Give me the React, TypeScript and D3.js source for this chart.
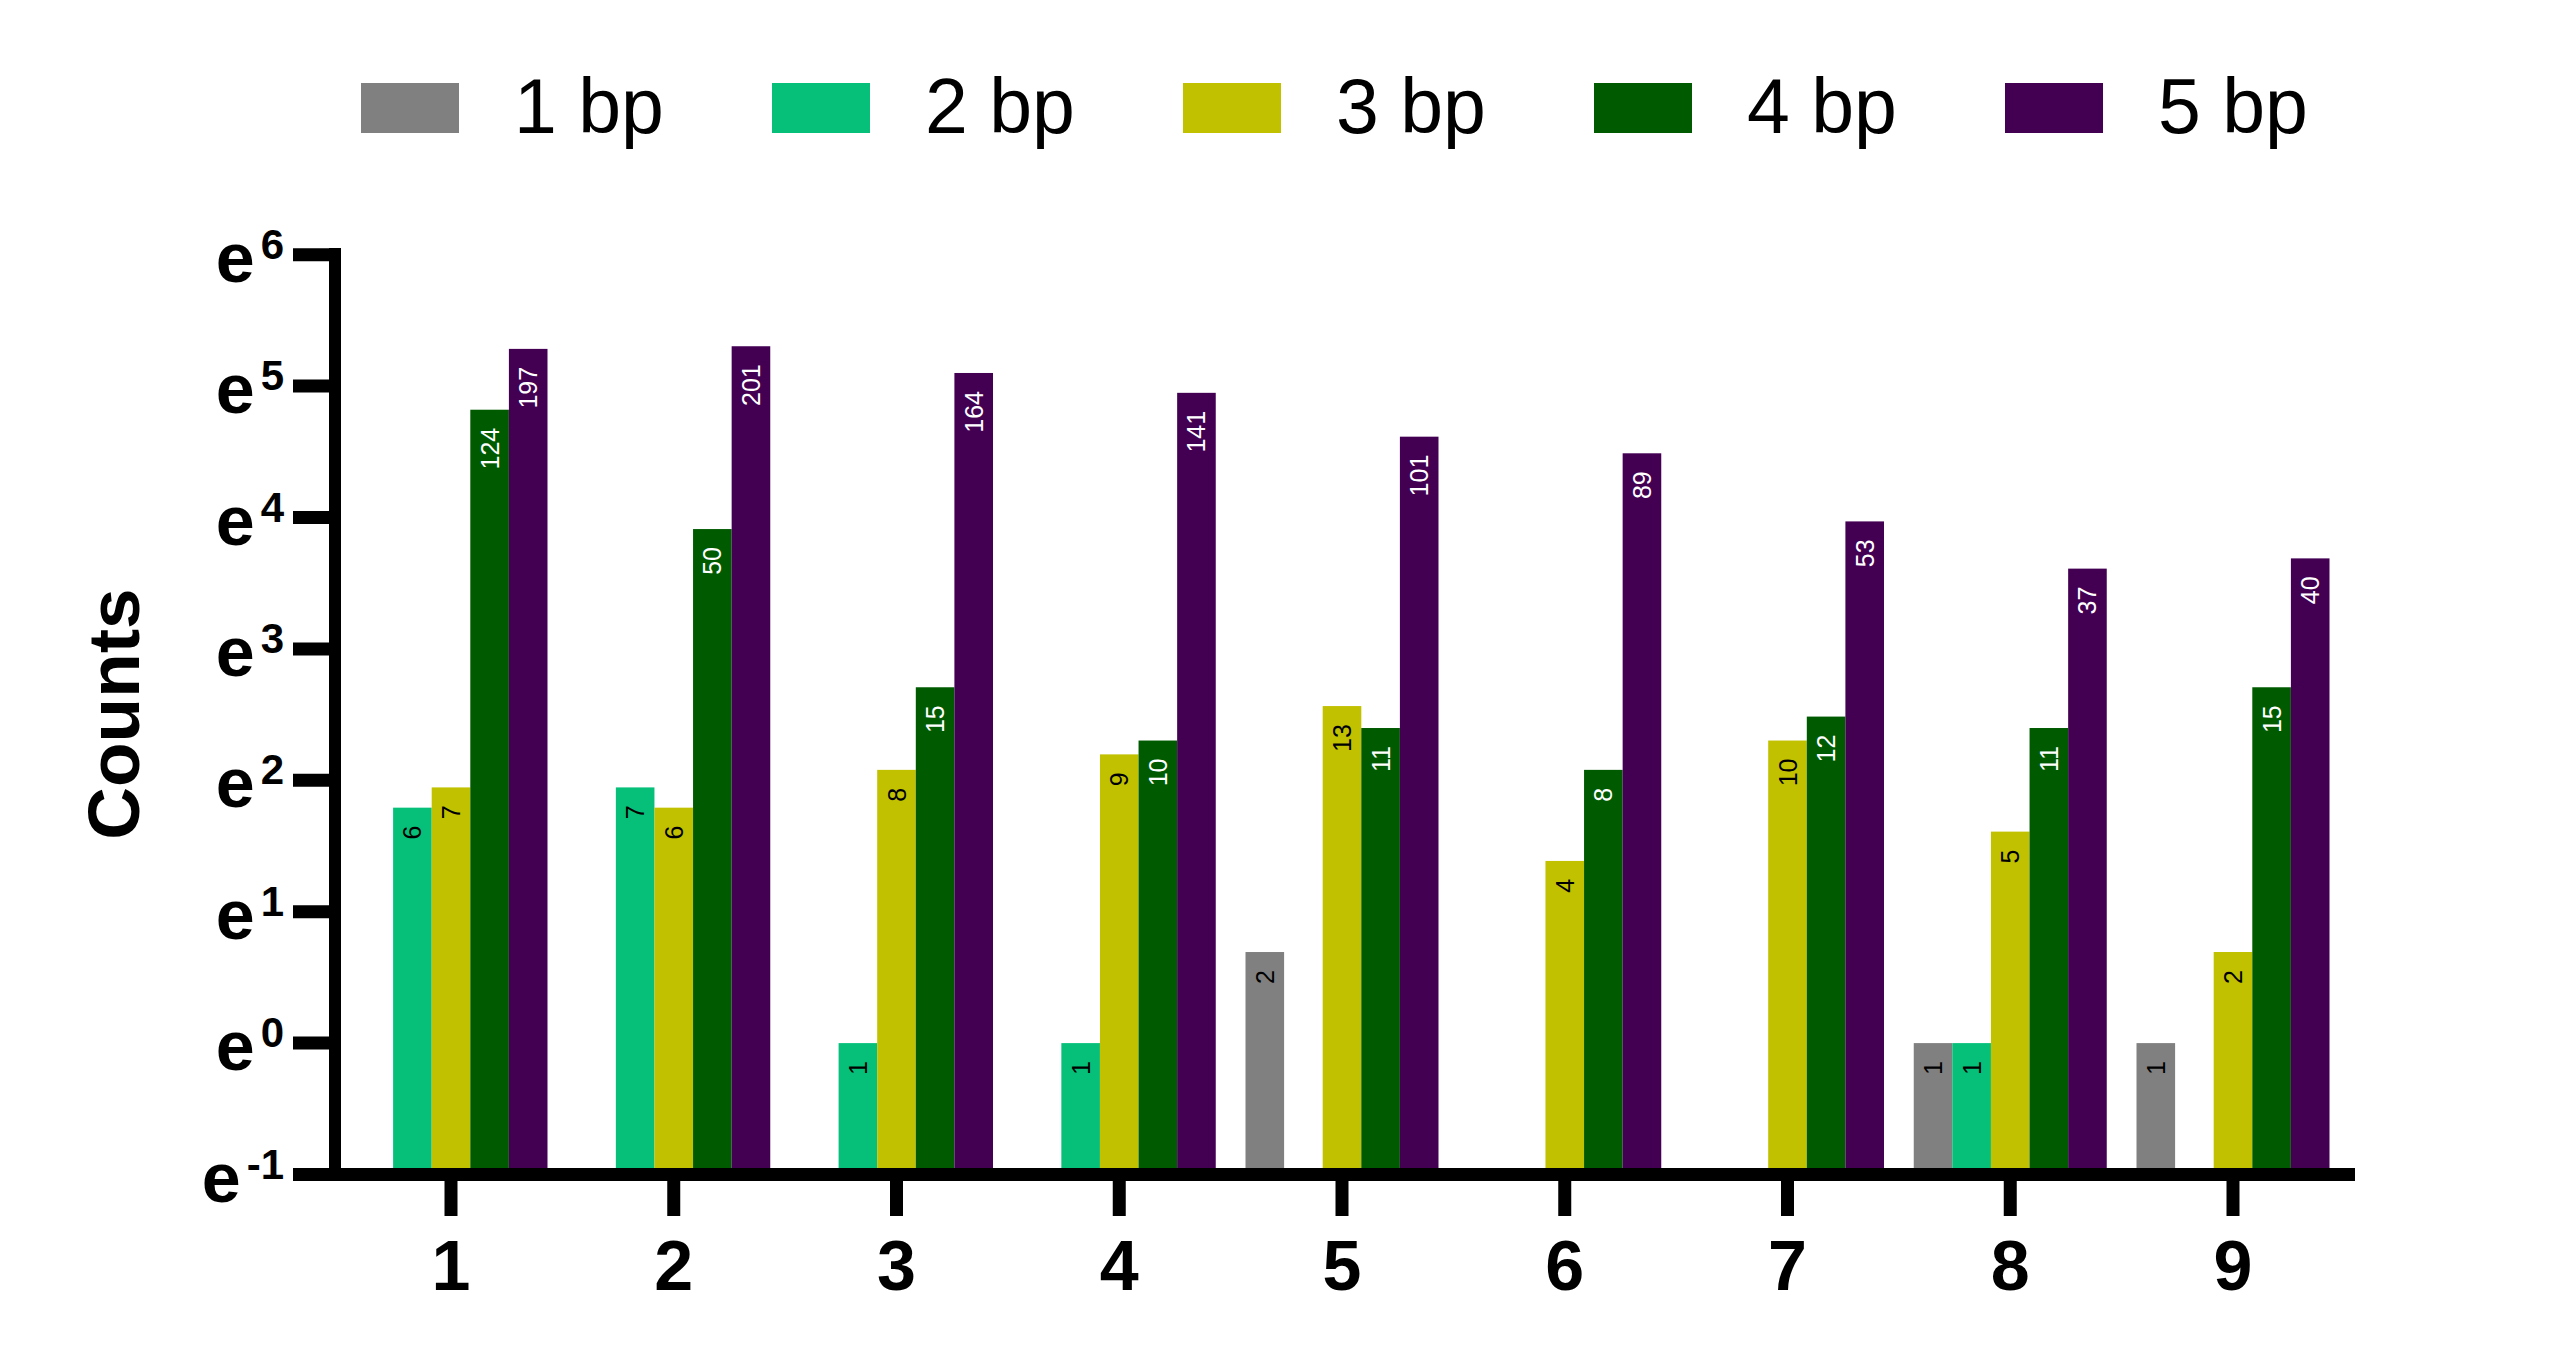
import React from "react";
import * as d3 from "d3";

const categories = ["1", "2", "3", "4", "5", "6", "7", "8", "9"];
const seriesNames = ["1 bp", "2 bp", "3 bp", "4 bp", "5 bp"];
const bp1: (number | null)[] = [null, null, null, null, 2, null, null, 1, 1];
const bp2: (number | null)[] = [6, 7, 1, 1, null, null, null, 1, null];
const bp3: (number | null)[] = [7, 6, 8, 9, 13, 4, 10, 5, 2];
const bp4: (number | null)[] = [124, 50, 15, 10, 11, 8, 12, 11, 15];
const bp5: (number | null)[] = [197, 201, 164, 141, 101, 89, 53, 37, 40];
const yExponents = [-1, 0, 1, 2, 3, 4, 5, 6];
const colors = ["#808080", "#06C07A", "#C1C100", "#005A00", "#430053"];
const labelColors = ["#000", "#000", "#000", "#fff", "#fff"];

const allSeries = [bp1, bp2, bp3, bp4, bp5];
const FONT = "'Liberation Sans', Arial, Helvetica, sans-serif";

export default function App() {
  const W = 2560;
  const H = 1367;
  const axisY = 1174.5;
  const axisX = 335;
  const y = d3
    .scaleLog()
    .base(Math.E)
    .domain([Math.exp(-1), Math.exp(6)])
    .range([axisY, 254.7]);
  const x = d3.scalePoint<string>().domain(categories).range([451, 2233]).padding(0);
  const sub = d3
    .scaleBand<string>()
    .domain(seriesNames)
    .range([-96.5, 96.5])
    .padding(0);
  const bw = sub.bandwidth();

  return (
    <svg
      width={W}
      height={H}
      style={{ position: "fixed", left: 0, top: 0, background: "#fff" }}
      fontFamily={FONT}
    >
      <rect x={0} y={0} width={W} height={H} fill="#fff" />
      {/* legend */}
      {seriesNames.map((s, i) => {
        const lx = 361 + i * 411;
        return (
          <g key={s}>
            <rect x={lx} y={83} width={98} height={50} fill={colors[i]} />
            <text x={lx + 153} y={133} fontSize={77} fill="#000">
              {s}
            </text>
          </g>
        );
      })}
      {/* bars */}
      {allSeries.map((vals, si) =>
        vals.map((v, ci) => {
          if (v == null) return null;
          const cx = (x(categories[ci]) as number) + (sub(seriesNames[si]) as number);
          const top = y(v);
          return (
            <g key={`${si}-${ci}`}>
              <rect x={cx} y={top} width={bw} height={axisY - top} fill={colors[si]} />
              <text
                transform={`translate(${cx + bw / 2},${top + 18}) rotate(-90)`}
                textAnchor="end"
                dominantBaseline="central"
                fontSize={25}
                fill={labelColors[si]}
              >
                {v}
              </text>
            </g>
          );
        })
      )}
      {/* y axis */}
      <line x1={axisX} x2={axisX} y1={248} y2={1181} stroke="#000" strokeWidth={12} />
      {yExponents.map((e) => {
        const ty = y(Math.exp(e));
        return (
          <g key={e}>
            <line x1={293} x2={axisX} y1={ty} y2={ty} stroke="#000" strokeWidth={13} />
            <text x={284} y={ty + 27} textAnchor="end" fontSize={70} fontWeight="bold" fill="#000">
              e
              <tspan dx={6} dy={-23} fontSize={42}>
                {String(e)}
              </tspan>
            </text>
          </g>
        );
      })}
      {/* x axis */}
      <line x1={293} x2={2355} y1={axisY} y2={axisY} stroke="#000" strokeWidth={13} />
      {categories.map((c) => {
        const tx = x(c) as number;
        return (
          <g key={c}>
            <line x1={tx} x2={tx} y1={axisY} y2={1216} stroke="#000" strokeWidth={13} />
            <text x={tx} y={1290} textAnchor="middle" fontSize={70} fontWeight="bold" fill="#000">
              {c}
            </text>
          </g>
        );
      })}
      {/* y title */}
      <text
        transform={`translate(139,714) rotate(-90)`}
        textAnchor="middle"
        fontSize={73}
        fontWeight="bold"
        fill="#000"
      >
        Counts
      </text>
    </svg>
  );
}
